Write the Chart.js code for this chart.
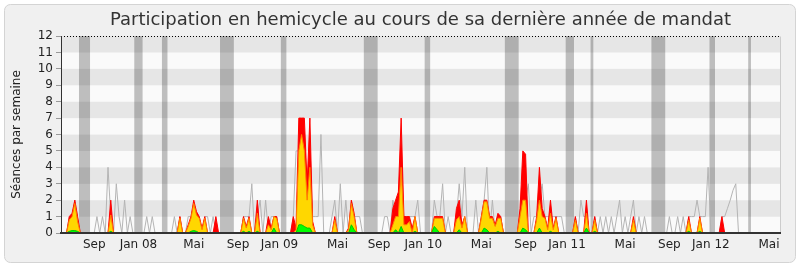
<!DOCTYPE html>
<html>
<head>
<meta charset="utf-8">
<script src="https://cdn.jsdelivr.net/npm/chart.js@4.4.0/dist/chart.umd.min.js"></script>
<style>
    html, body { margin: 0; padding: 0; background: #fff; }
    #wrap { width: 800px; height: 267px; }
</style>
</head>
<body>
<div id="wrap"><canvas id="participationChart"></canvas></div>
<script>
// one value per week, from the week of 18 June 2007
const debut = '2007-06-18';

const seances = [
    0,0,0,1,1,2,1,0,0,0, 0,0,0,1,0,1,0,4,1,0,
    3,1,0,2,0,1,0,0,0,0, 0,1,0,1,0,0,0,0,0,0,
    0,1,0,1,0,0,1,1,1,1, 1,0,1,1,0,1,0,0,0,0,
    0,0,0,0,0,0,1,1,1,3, 0,1,2,0,2,0,1,1,1,0,
    0,0,0,0,1,5,5,5,5,3, 5,1,1,1,6,0,0,0,1,2,
    0,3,0,2,0,2,1,1,1,0, 0,0,0,0,0,0,0,1,1,0,
    2,1,1,3,1,1,1,1,1,2, 0,0,0,0,0,2,1,1,3,0,
    1,0,0,1,3,1,4,0,0,0, 2,0,1,2,4,0,2,0,1,1,
    0,0,0,0,0,0,1,2,2,3, 0,1,1,2,3,1,1,1,1,1,
    1,1,0,0,0,0,1,0,2,1, 1,0,0,1,0,1,0,1,0,1,
    0,1,2,0,1,0,1,2,0,1, 0,1,0,0,0,0,0,0,0,0,
    1,0,0,1,0,1,0,1,1,1, 2,1,1,1,4,0,0,0,0,1,
    1,1.5,2,2.6,3,0,0,0,0,0, 0,0,0,0,0,0,0,0,0,0,
    0
];

const presences = [
    0,0,0,1,1.2,2,1,0,0,0, 0,0,0,0,0,0,0,0,2,0,
    0,0,0,0,0,0,0,0,0,0, 0,0,0,0,0,0,0,0,0,0,
    0,0,0,1,0,0,0.5,1,2,1.3, 1,0.3,1,0,0,0,1,0,0,0,
    0,0,0,0,0,0,1,0.4,1,0, 0,2,0,0,0,1,0.3,1,1,0,
    0,0,0,0,1,0.3,7,7,7,3, 7,0.7,0,0,0,0,0,0,0,1,
    0,0,0,0,0.3,2,1.2,0,0,0, 0,0,0,0,0,0,0,0,0,0,
    1.5,2,2.5,7,1,1,1,0.3,1,0, 0,0,0,0,0,1,1,1,1,0,
    0,0,0,1.5,2,0.5,1,0,0,0, 0,0,1,2,2,1,1,0.5,1.2,1,
    0,0,0,0,0,0,1.5,5,4.8,0, 0,0,1,4,1.5,1,0.3,2,0.3,1,
    0,0,0,0,0,0,1,0,0,0, 2,0,0,1,0,0,0,0,0,0,
    0,0,0,0,0,0,0,1,0,0, 0,0,0,0,0,0,0,0,0,0,
    0,0,0,0,0,0,0,1,0,0, 0,1,0,0,0,0,0,0,0,1,
    0,0,0,0,0,0,0,0,0,0, 0,0,0,0,0,0,0,0,0,0,
    0
];

const participations = [
    0,0,0,0.8,1,1.8,0.7,0,0,0, 0,0,0,0,0,0,0,0,1.1,0,
    0,0,0,0,0,0,0,0,0,0, 0,0,0,0,0,0,0,0,0,0,
    0,0,0,0.9,0,0,0.4,0.9,1.8,1.1, 0.9,0.2,0.9,0,0,0,0,0,0,0,
    0,0,0,0,0,0,0.9,0.3,0.9,0, 0,1.2,0,0,0,0.5,0.2,1,0.9,0,
    0,0,0,0,0,0.2,5,6,5,2, 4,0.5,0,0,0,0,0,0,0,0.8,
    0,0,0,0,0.2,1.8,1,0,0,0, 0,0,0,0,0,0,0,0,0,0,
    0.5,1,1,4,0.5,0.5,0.7,0,1,0, 0,0,0,0,0,0.9,0.9,0.9,0.9,0,
    0,0,0,0.8,1,0.3,1,0,0,0, 0,0,0.9,1.9,1.9,0.9,0.9,0.4,0.9,0.9,
    0,0,0,0,0,0,1,2,2,0, 0,0,0.8,2,1,0.9,0.2,1.2,0.2,0.9,
    0,0,0,0,0,0,0.8,0,0,0, 1.2,0,0,0.8,0,0,0,0,0,0,
    0,0,0,0,0,0,0,0.8,0,0, 0,0,0,0,0,0,0,0,0,0,
    0,0,0,0,0,0,0,0.8,0,0, 0,0.9,0,0,0,0,0,0,0,0,
    0,0,0,0,0,0,0,0,0,0, 0,0,0,0,0,0,0,0,0,0,
    0
];

const interventions = [
    0,0,0,0.1,0.15,0.15,0.1,0,0,0, 0,0,0,0,0,0,0,0,0.1,0,
    0,0,0,0,0,0,0,0,0,0, 0,0,0,0,0,0,0,0,0,0,
    0,0,0,0,0,0,0,0.1,0.15,0.1, 0,0,0,0,0,0,0,0,0,0,
    0,0,0,0,0,0,0.1,0,0.1,0, 0,0.1,0,0,0,0,0,0.3,0,0,
    0,0,0,0,0,0,0.5,0.5,0.4,0.3, 0.3,0,0,0,0,0,0,0,0,0,
    0,0,0,0,0,0.5,0.2,0,0,0, 0,0,0,0,0,0,0,0,0,0,
    0,0.2,0,0.4,0,0,0,0,0.1,0, 0,0,0,0,0,0.4,0.2,0,0,0,
    0,0,0,0,0.2,0,0,0,0,0, 0,0,0,0.3,0.2,0,0,0,0.1,0,
    0,0,0,0,0,0,0,0.3,0.2,0, 0,0,0,0.3,0,0,0,0.1,0,0,
    0,0,0,0,0,0,0,0,0,0, 0.3,0,0,0.1,0,0,0,0,0,0,
    0,0,0,0,0,0,0,0,0,0, 0,0,0,0,0,0,0,0,0,0,
    0,0,0,0,0,0,0,0.1,0,0, 0,0.1,0,0,0,0,0,0,0,0,
    0,0,0,0,0,0,0,0,0,0, 0,0,0,0,0,0,0,0,0,0,
    0
];

// weeks without sessions (first week, last week)
const vacances = [[7, 10], [27, 29], [37, 38], [58, 62], [80, 81], [110, 114],
    [132, 133], [161, 165], [183, 185], [192, 192], [214, 218], [235, 236], [249, 249]];

// month labels and the week they sit under
const moisLabels = ['Sep', 'Jan 08', 'Mai', 'Sep', 'Jan 09', 'Mai', 'Sep', 'Jan 10',
    'Mai', 'Sep', 'Jan 11', 'Mai', 'Sep', 'Jan 12', 'Mai'];
const moisSemaines = [12, 28, 48, 64, 79, 100, 115, 131, 152, 168, 183, 204, 220, 235, 256];

const semaineMs = 7 * 24 * 3600 * 1000;
const t0 = Date.parse(debut);
const semaines = seances.map((_, i) => new Date(t0 + i * semaineMs).toISOString().slice(0, 10));
const bandes = semaines.map((_, i) => vacances.some(([a, b]) => i >= a && i <= b) ? 12 : 0);

// hide the outline where an area lies flat on the baseline
const horsZero = ctx => (ctx.p0.parsed.y === 0 && ctx.p1.parsed.y === 0) ? 'rgba(0,0,0,0)' : undefined;

const fond = {
    id: 'fond',
    beforeDraw(chart) {
        const {ctx, width, height} = chart;
        ctx.save();
        ctx.fillStyle = '#ffffff';
        ctx.fillRect(0, 0, width, height);
        ctx.beginPath();
        ctx.roundRect(4.5, 4.5, width - 9, height - 9, 6);
        ctx.fillStyle = '#f0f0f0';
        ctx.fill();
        ctx.strokeStyle = '#d4d4d4';
        ctx.lineWidth = 1;
        ctx.stroke();
        ctx.restore();
    },
    beforeDatasetsDraw(chart) {
        const {ctx, chartArea: a, scales: {y}} = chart;
        ctx.save();
        for (let v = 0; v < 12; v++) {
            const y0 = y.getPixelForValue(v), y1 = y.getPixelForValue(v + 1);
            ctx.fillStyle = v % 2 ? '#e6e6e6' : '#fafafa';
            ctx.fillRect(a.left, y1, a.right - a.left, y0 - y1);
        }
        ctx.restore();
    },
    afterDatasetsDraw(chart) {
        const {ctx, chartArea: a, scales: {y}} = chart;
        const top = Math.round(y.getPixelForValue(12)) + 0.5;
        ctx.save();
        ctx.strokeStyle = '#cccccc';
        ctx.beginPath();
        ctx.moveTo(a.right + 0.5, top);
        ctx.lineTo(a.right + 0.5, a.bottom);
        ctx.stroke();
        ctx.strokeStyle = '#000000';
        ctx.setLineDash([1, 2]);
        ctx.beginPath();
        ctx.moveTo(a.left, top);
        ctx.lineTo(a.right, top);
        ctx.stroke();
        ctx.restore();
    }
};

Chart.defaults.font.family = "'DejaVu Sans', sans-serif";
Chart.defaults.color = '#222';

new Chart(document.getElementById('participationChart'), {
    type: 'line',
    data: {
        labels: semaines,
        datasets: [
            { label: 'Vacances', data: bandes, stepped: 'middle', fill: 'origin',
              backgroundColor: 'rgba(0,0,0,0.24)', borderWidth: 0, order: 5 },
            { label: 'Séances', data: seances, borderColor: '#b4b4b4', borderWidth: 1,
              fill: false, order: 4 },
            { label: 'Présences', data: presences, borderColor: '#ff0000',
              backgroundColor: '#ff0000', fill: 'origin', order: 3,
              segment: { borderColor: horsZero } },
            { label: 'Participations', data: participations, borderColor: '#ff8000',
              backgroundColor: '#ffd700', fill: 'origin', order: 2,
              segment: { borderColor: horsZero } },
            { label: 'Interventions', data: interventions, borderColor: '#00c800',
              backgroundColor: '#00ff00', fill: 'origin', order: 1,
              segment: { borderColor: horsZero } }
        ]
    },
    options: {
        responsive: true,
        maintainAspectRatio: false,
        devicePixelRatio: 1,
        animation: false,
        elements: {
            point: { radius: 0 },
            line: { borderWidth: 1, tension: 0 }
        },
        layout: { padding: { top: 4, right: 20, left: 0, bottom: 0 } },
        plugins: {
            legend: { display: false },
            tooltip: { enabled: false },
            title: {
                display: true,
                fullSize: false,
                text: 'Participation en hemicycle au cours de sa dernière année de mandat',
                font: { size: 18, weight: 'normal' },
                color: '#333',
                padding: { top: 6, bottom: 4.4 }
            }
        },
        scales: {
            x: {
                type: 'category',
                offset: false,
                grid: { display: false },
                border: { display: true, color: '#333', width: 2, z: 1 },
                afterFit: s => { s.height = 34; },
                afterBuildTicks: s => { s.ticks = moisSemaines.map(w => ({ value: w })); },
                ticks: {
                    autoSkip: false,
                    maxRotation: 0,
                    padding: -3,
                    font: { size: 12 },
                    callback: (v, i) => moisLabels[i]
                }
            },
            y: {
                min: 0,
                max: 12,
                afterFit: s => { s.width = 61; },
                grid: { drawOnChartArea: false, drawTicks: true, tickLength: 5, tickColor: '#999' },
                border: { display: true, color: '#333', width: 1, z: 1 },
                ticks: { stepSize: 1, autoSkip: false, padding: 3, font: { size: 12 } },
                title: {
                    display: true,
                    text: 'Séances par semaine',
                    font: { size: 12 },
                    color: '#222',
                    padding: { top: 10, bottom: 0 }
                }
            }
        }
    },
    plugins: [fond]
});
</script>
</body>
</html>
